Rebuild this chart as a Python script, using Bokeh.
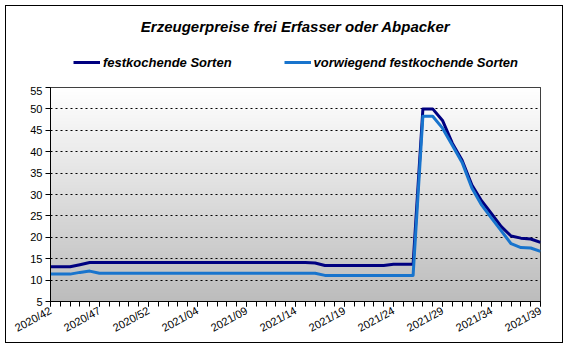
import math
import numpy as np
from bokeh.plotting import figure
from bokeh.layouts import column
from bokeh.models import (FixedTicker, Legend, LegendItem, Range1d, Label)
from bokeh.embed import file_html
from bokeh.resources import INLINE

weeks = [
    "2020/42", "2020/43", "2020/44", "2020/45", "2020/46", "2020/47", "2020/48",
    "2020/49", "2020/50", "2020/51", "2020/52", "2020/53", "2021/01", "2021/02",
    "2021/03", "2021/04", "2021/05", "2021/06", "2021/07", "2021/08", "2021/09",
    "2021/10", "2021/11", "2021/12", "2021/13", "2021/14", "2021/15", "2021/16",
    "2021/17", "2021/18", "2021/19", "2021/20", "2021/21", "2021/22", "2021/23",
    "2021/24", "2021/25", "2021/26", "2021/27", "2021/28", "2021/29", "2021/30",
    "2021/31", "2021/32", "2021/33", "2021/34", "2021/35", "2021/36", "2021/37",
    "2021/38", "2021/39",
]

festkochend = [
    13.1, 13.1, 13.1, 13.6, 14.1, 14.1, 14.1, 14.1, 14.1, 14.1,
    14.1, 14.1, 14.1, 14.1, 14.1, 14.1, 14.1, 14.1, 14.1, 14.1,
    14.1, 14.1, 14.1, 14.1, 14.1, 14.1, 14.1, 14.0, 13.4, 13.4,
    13.4, 13.4, 13.4, 13.4, 13.4, 13.7, 13.7, 13.7, 50.0, 50.0,
    47.3, 42.0, 38.0, 32.2, 28.5, 25.5, 22.5, 20.3, 19.8, 19.6,
    18.8,
]

vorwiegend = [
    11.4, 11.4, 11.4, 11.8, 12.1, 11.6, 11.6, 11.6, 11.6, 11.6,
    11.6, 11.6, 11.6, 11.6, 11.6, 11.6, 11.6, 11.6, 11.6, 11.6,
    11.6, 11.6, 11.6, 11.6, 11.6, 11.6, 11.6, 11.6, 11.1, 11.1,
    11.1, 11.1, 11.1, 11.1, 11.1, 11.1, 11.1, 11.1, 48.3, 48.3,
    45.5, 41.5, 37.5, 31.5, 27.5, 24.5, 21.5, 18.5, 17.6, 17.5,
    16.7,
]

series_names = ["festkochende Sorten", "vorwiegend festkochende Sorten"]
series_colors = ["#000080", "#1874CD"]
title_text = "Erzeugerpreise frei Erfasser oder Abpacker"

y_ticks = [5, 10, 15, 20, 25, 30, 35, 40, 45, 50, 55]
label_every = 5

xs = list(range(len(weeks)))
x0, x1 = 0, len(weeks) - 1
y0, y1 = y_ticks[0], y_ticks[-1]

FONT = "Liberation Sans"
W = 556

# ---- header figure: title + legend ----
top = figure(width=W, height=80, output_backend="svg", toolbar_location=None,
             x_axis_type=None, y_axis_type=None,
             x_range=Range1d(0, 1), y_range=Range1d(0, 1),
             min_border_left=44, min_border_right=22, min_border_top=0,
             min_border_bottom=0)
top.outline_line_color = None
top.grid.grid_line_color = None
top.background_fill_color = "white"
top.border_fill_color = "white"

top.add_layout(Label(x=245, y=60, x_units="screen", y_units="screen",
                     text=title_text, text_align="center", text_baseline="middle",
                     text_font=FONT, text_font_style="bold italic",
                     text_font_size="15px", text_color="black"))

# legend proxies (kept outside the header's visible range)
d1 = top.line(x=[0, 1], y=[5, 5], line_color=series_colors[0], line_width=3)
d2 = top.line(x=[0, 1], y=[5, 5], line_color=series_colors[1], line_width=3)
legend = Legend(items=[LegendItem(label=series_names[0], renderers=[d1]),
                       LegendItem(label=series_names[1], renderers=[d2])],
                orientation="horizontal", location=(23, 14),
                label_text_font=FONT, label_text_font_style="bold italic",
                label_text_font_size="13px", label_text_color="black",
                glyph_width=27, label_standoff=3, spacing=52,
                border_line_color=None, background_fill_alpha=0,
                padding=0, margin=0)
top.add_layout(legend)

# ---- main chart ----
p = figure(width=W, height=256, output_backend="svg", toolbar_location=None,
           x_range=Range1d(x0, x1), y_range=Range1d(y0, y1),
           min_border_left=44, min_border_right=22, min_border_top=1,
           min_border_bottom=41)

p.background_fill_color = "white"
p.border_fill_color = "white"
p.outline_line_color = "black"
p.outline_line_width = 1

n = 215
img = np.zeros((n, 1), dtype=np.uint32)
view = img.view(dtype=np.uint8).reshape((n, 1, 4))
for i in range(n):
    t = i / (n - 1)
    c = int(round(188 + (255 - 188) * t))
    view[i, 0, 0] = c
    view[i, 0, 1] = c
    view[i, 0, 2] = c
    view[i, 0, 3] = 255
ir = p.image_rgba(image=[img], x=x0, y=y0, dw=x1 - x0, dh=y1 - y0)
ir.level = "image"

r1 = p.line(xs, festkochend, line_color=series_colors[0], line_width=3, line_join="round")
r2 = p.line(xs, vorwiegend, line_color=series_colors[1], line_width=3, line_join="round")

xt = list(range(0, len(weeks), label_every))
p.xaxis.ticker = FixedTicker(ticks=xt, minor_ticks=xs)
p.xaxis.major_label_overrides = {i: weeks[i] for i in xt}
p.xaxis.major_label_orientation = 0.5
p.yaxis.ticker = FixedTicker(ticks=y_ticks)
for ax in (p.xaxis[0], p.yaxis[0]):
    ax.axis_line_color = "black"
    ax.major_tick_line_color = "black"
    ax.minor_tick_line_color = "black"
    ax.major_tick_in = 0
    ax.major_tick_out = 5
    ax.minor_tick_in = 0
    ax.minor_tick_out = 5
    ax.major_label_text_font = FONT
    ax.major_label_text_font_size = "11px"
    ax.major_label_text_color = "black"
p.yaxis.minor_tick_line_color = None
p.yaxis.major_label_standoff = 3
p.xaxis.major_label_standoff = 3

p.xgrid.grid_line_color = None
p.ygrid.grid_line_color = "black"
p.ygrid.grid_line_dash = "2 3"
p.ygrid.grid_line_width = 1

layout = column(top, p, spacing=0, margin=(5, 7, 8, 5),
                styles={"border": "1px solid black", "background-color": "white"})

open("out.html", "w").write(file_html(layout, INLINE))
